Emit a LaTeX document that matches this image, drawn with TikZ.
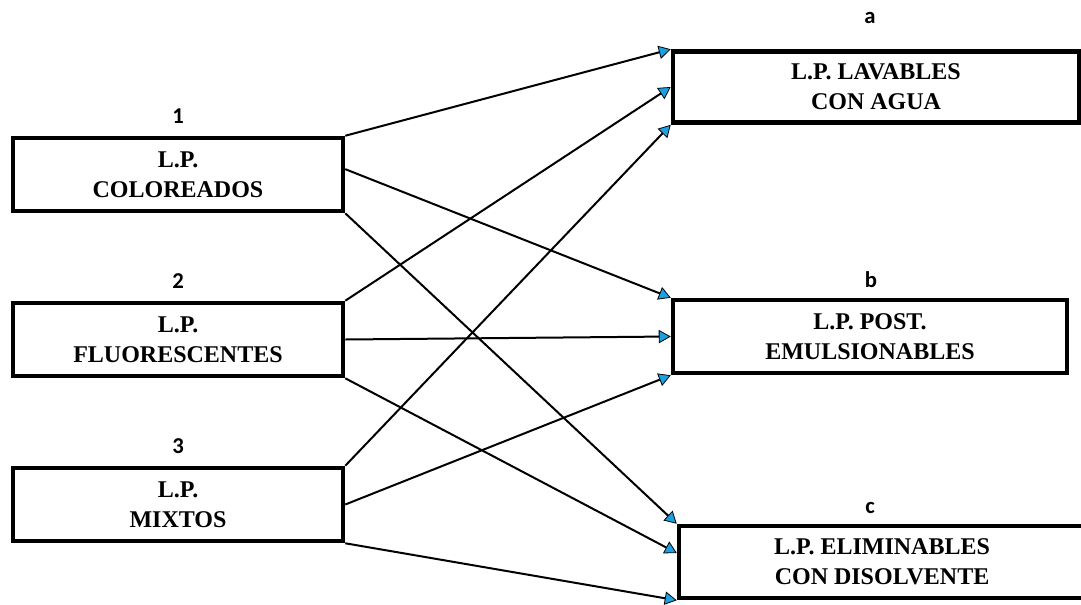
\documentclass[tikz,border=0pt]{standalone}
\usepackage{fontspec}
\setmainfont{Liberation Serif}
\newfontfamily\boxfont{Liberation Serif}[BoldFont={Liberation Serif Bold}]
\newfontfamily\tagfont{Carlito}[BoldFont={Carlito Bold}]
\usetikzlibrary{arrows.meta}
\definecolor{tipblue}{RGB}{27,161,226}
\tikzset{
  catbox/.style={draw=black, line width=3.4pt, rectangle, inner sep=0pt,
    align=center, font=\boxfont\bfseries\fontsize{18}{22.5}\selectfont},
  tag/.style={font=\tagfont\bfseries\fontsize{17}{20}\selectfont, inner sep=0pt},
  link/.style={draw=black, line width=1.5pt,
    -{Triangle[length=9pt, width=10pt, fill=tipblue, line width=0.6pt]}}
}
\begin{document}
\begin{tikzpicture}[x=0.75pt, y=-0.75pt]
  \useasboundingbox (0,0) rectangle (1081,604);
  \clip (0,0) rectangle (1081,604);

  % penetrant types (left column)
  \node[catbox, minimum width=330*0.75pt, minimum height=73*0.75pt] (n1) at (178,174.5) {L.P.\\COLOREADOS};
  \node[catbox, minimum width=330*0.75pt, minimum height=73*0.75pt] (n2) at (178,339.5) {L.P.\\FLUORESCENTES};
  \node[catbox, minimum width=330*0.75pt, minimum height=73*0.75pt] (n3) at (178,504.5) {L.P.\\MIXTOS};

  % removal methods (right column)
  \node[catbox, minimum width=406*0.75pt, minimum height=71*0.75pt] (ra) at (876,87) {L.P. LAVABLES\\CON AGUA};
  \node[catbox, minimum width=394*0.75pt, minimum height=73*0.75pt] (rb) at (870,336.5) {L.P. POST.\\EMULSIONABLES};
  \node[catbox, minimum width=406*0.75pt, minimum height=72*0.75pt] (rc) at (882,562) {L.P. ELIMINABLES\\CON DISOLVENTE};

  % tags
  \node[tag] (t1) at (178,116) {1};
  \node[tag] (t2) at (178,281) {2};
  \node[tag] (t3) at (178,446) {3};
  \node[tag] (ta) at (870,18) {a};
  \node[tag] (tb) at (871,280) {b};
  \node[tag] (tc) at (870,508) {c};

  % connectors
  \draw[link] (n1.north east) -- (ra.north west);
  \draw[link] ([yshift=4pt]n1.east) -- (rb.north west);
  \draw[link] (n1.south east) -- (rc.north west);

  \draw[link] (n2.north east) -- (ra.west);
  \draw[link] (n2.east) -- (rb.west);
  \draw[link] (n2.south east) -- ([yshift=6.75pt]rc.west);

  \draw[link] (n3.north east) -- (ra.south west);
  \draw[link] (n3.east) -- (rb.south west);
  \draw[link] (n3.south east) -- (rc.south west);
\end{tikzpicture}
\end{document}
